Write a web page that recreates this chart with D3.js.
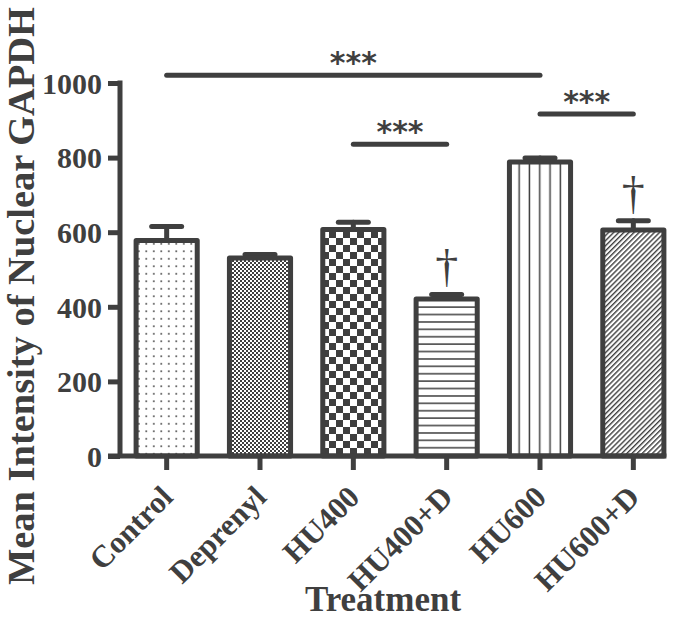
<!DOCTYPE html>
<html>
<head>
<meta charset="utf-8">
<script src="https://cdn.jsdelivr.net/npm/d3@7"></script>
<style>
  html, body { margin: 0; padding: 0; background: #fff; }
  svg { display: block; }
</style>
</head>
<body>
<script>
// ---- Data ----
const categories = ["Control", "Deprenyl", "HU400", "HU400+D", "HU600", "HU600+D"];
const means = [578, 531, 607, 421, 788, 606];
const errors = [37, 9, 20, 12, 11, 25];
const patterns = ["dots", "fineCheck", "bigCheck", "hLines", "vLines", "diag"];
const yTicks = [0, 200, 400, 600, 800, 1000];
const sigPairs = [["Control", "HU600"], ["HU600", "HU600+D"], ["HU400", "HU400+D"]];
const sigLevels = [1021, 917, 836];
const sigLabels = ["***", "***", "***"];
const daggerCats = ["HU400+D", "HU600+D"];
const daggerLabel = "†";
const xTitle = "Treatment";
const yTitle = "Mean Intensity of Nuclear GAPDH";

// ---- Setup ----
const W = 683, H = 630;
const ink = "#3f3f3f";
const serif = "'Liberation Serif', 'Times New Roman', Times, serif";

const svg = d3.select("body").append("svg").attr("width", W).attr("height", H);

const x = d3.scaleBand().domain(categories).range([120, 680]).paddingInner(0.345).paddingOuter(0.1725);
const y = d3.scaleLinear().domain([0, 1000]).range([456, 83]);

// ---- Patterns ----
const defs = svg.append("defs");
function pat(id, w, h) {
  const p = defs.append("pattern").attr("id", id).attr("patternUnits", "userSpaceOnUse")
    .attr("width", w).attr("height", h);
  p.append("rect").attr("width", w).attr("height", h).attr("fill", "#fff");
  return p;
}
let p = pat("dots", 7.5, 7.5);
p.append("rect").attr("x", 3).attr("y", 3).attr("width", 1.6).attr("height", 1.6).attr("fill", ink);
p = pat("fineCheck", 4, 4);
p.append("rect").attr("x", 0).attr("y", 0).attr("width", 2).attr("height", 2).attr("fill", ink);
p.append("rect").attr("x", 2).attr("y", 2).attr("width", 2).attr("height", 2).attr("fill", ink);
p = pat("bigCheck", 14, 14);
p.append("rect").attr("x", 0).attr("y", 0).attr("width", 7).attr("height", 7).attr("fill", ink);
p.append("rect").attr("x", 7).attr("y", 7).attr("width", 7).attr("height", 7).attr("fill", ink);
p = pat("hLines", 10, 7.4);
p.append("rect").attr("x", 0).attr("y", 3).attr("width", 10).attr("height", 1.5).attr("fill", ink);
p = pat("vLines", 10.3, 10);
p.append("rect").attr("x", 3.4).attr("y", 0).attr("width", 1.5).attr("height", 10).attr("fill", ink);
p = defs.append("pattern").attr("id", "diag").attr("patternUnits", "userSpaceOnUse")
  .attr("width", 3.6).attr("height", 6).attr("patternTransform", "rotate(45)");
p.append("rect").attr("width", 3.6).attr("height", 6).attr("fill", "#fff");
p.append("rect").attr("x", 0).attr("y", 0).attr("width", 1.4).attr("height", 6).attr("fill", ink);

// ---- Bars ----
const data = categories.map((c, i) => ({ c, m: means[i], e: errors[i], p: patterns[i] }));

// error bars (drawn before bars so bar top covers stem)
const eg = svg.append("g").attr("stroke", ink).attr("stroke-width", 5).attr("stroke-linecap", "round");
data.forEach(d => {
  const cx = x(d.c) + x.bandwidth() / 2;
  eg.append("line").attr("x1", cx).attr("x2", cx).attr("y1", y(d.m)).attr("y2", y(d.m + d.e));
  eg.append("line").attr("x1", cx - 15).attr("x2", cx + 15).attr("y1", y(d.m + d.e)).attr("y2", y(d.m + d.e));
});

svg.append("g").selectAll("rect").data(data).join("rect")
  .attr("x", d => x(d.c))
  .attr("width", x.bandwidth())
  .attr("y", d => y(d.m))
  .attr("height", d => y(0) - y(d.m))
  .attr("fill", d => `url(#${d.p})`)
  .attr("stroke", ink)
  .attr("stroke-width", 5)
  .attr("stroke-linejoin", "round");

// ---- Axes ----
const lastRight = x(categories[categories.length - 1]) + x.bandwidth() + 2.5;
const yAxis = d3.axisLeft(y).tickValues(yTicks).tickSize(12).tickPadding(6).tickFormat(d3.format("d"));
const yg = svg.append("g").attr("transform", "translate(120,0)").call(yAxis);
yg.select(".domain").remove();
yg.selectAll(".tick line").attr("stroke", ink).attr("stroke-width", 5);
yg.selectAll(".tick text").attr("fill", ink).attr("font-family", serif).attr("font-weight", "bold")
  .attr("font-size", 30).attr("dy", "0.34em");
svg.append("line").attr("x1", 120).attr("x2", 120).attr("y1", y(1000) - 2.5).attr("y2", y(0))
  .attr("stroke", ink).attr("stroke-width", 5);
svg.append("line").attr("x1", 108).attr("x2", lastRight).attr("y1", y(0)).attr("y2", y(0))
  .attr("stroke", ink).attr("stroke-width", 5);

const xAxis = d3.axisBottom(x).tickSize(14).tickFormat("");
const xg = svg.append("g").attr("transform", `translate(0,${y(0)})`).call(xAxis);
xg.select(".domain").remove();
xg.selectAll(".tick line").attr("stroke", ink).attr("stroke-width", 5);

// rotated category labels
svg.append("g").selectAll("text").data(categories).join("text")
  .attr("transform", d => `translate(${x(d) + x.bandwidth() / 2 + 8},499) rotate(-45)`)
  .attr("text-anchor", "end")
  .attr("font-family", serif).attr("font-weight", "bold").attr("font-size", 31)
  .attr("fill", ink)
  .text(d => d);

// axis titles
svg.append("text").attr("x", 383).attr("y", 611).attr("text-anchor", "middle")
  .attr("font-family", serif).attr("font-weight", "bold").attr("font-size", 35).attr("fill", ink)
  .text(xTitle);
svg.append("text").attr("transform", "translate(34,296) rotate(-90)").attr("text-anchor", "middle")
  .attr("font-family", serif).attr("font-weight", "bold").attr("font-size", 37.5).attr("fill", ink)
  .attr("textLength", 578).attr("lengthAdjust", "spacingAndGlyphs")
  .text(yTitle);

// ---- Significance ----
const sg = svg.append("g");
sigPairs.forEach((pr, i) => {
  const x1 = x(pr[0]) + x.bandwidth() / 2, x2 = x(pr[1]) + x.bandwidth() / 2;
  const yy = y(sigLevels[i]);
  sg.append("line").attr("x1", x1).attr("x2", x2).attr("y1", yy).attr("y2", yy)
    .attr("stroke", ink).attr("stroke-width", 5).attr("stroke-linecap", "round");
  sg.append("text").attr("x", (x1 + x2) / 2).attr("y", yy - 2).attr("text-anchor", "middle")
    .attr("font-family", "'DejaVu Sans', sans-serif").attr("font-weight", "bold")
    .attr("font-size", 30).attr("fill", ink)
    .text(sigLabels[i]);
});

// daggers
daggerCats.forEach(c => {
  const i = categories.indexOf(c);
  const cx = x(c) + x.bandwidth() / 2;
  svg.append("text").attr("x", cx).attr("y", y(means[i] + errors[i]) - 12).attr("text-anchor", "middle")
    .attr("font-family", serif).attr("font-size", 46).attr("fill", ink)
    .text(daggerLabel);
});
</script>
</body>
</html>
